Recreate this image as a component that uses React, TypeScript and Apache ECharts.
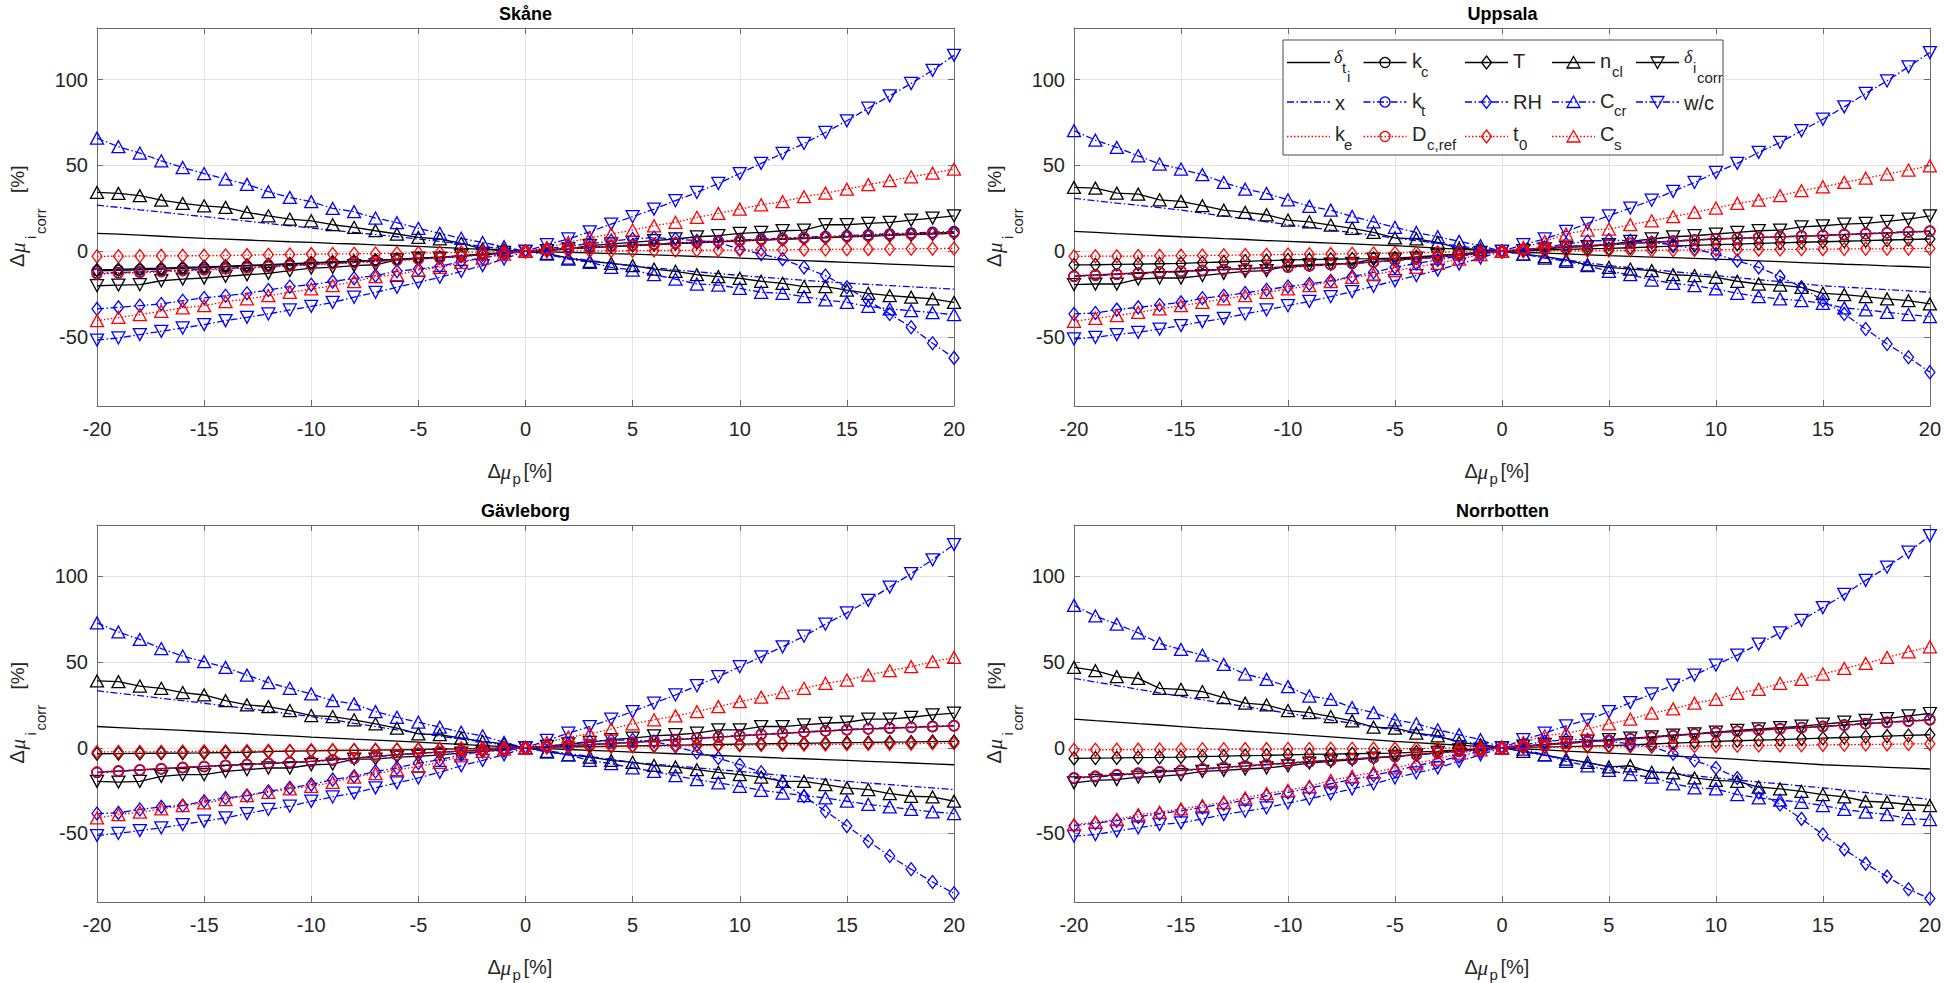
import React, { useEffect, useRef } from "react";
import * as echarts from "echarts";

// x values: Δμp [%]
const X = [-20,-19,-18,-17,-16,-15,-14,-13,-12,-11,-10,-9,-8,-7,-6,-5,-4,-3,-2,-1,0,1,2,3,4,5,6,7,8,9,10,11,12,13,14,15,16,17,18,19,20];
const X_TICKS_STEP = 5;
const Y_TICKS = [-50, 0, 50, 100];

// ---------- Skåne ----------
const skDt = [10.5,10.0,9.4,8.8,8.2,7.6,7.1,6.6,6.1,5.6,5.2,4.7,4.3,3.8,3.4,2.9,2.3,1.7,1.1,0.5,0,-0.3,-0.6,-0.9,-1.3,-1.6,-2.1,-2.5,-3.0,-3.4,-3.9,-4.4,-4.9,-5.4,-5.9,-6.4,-6.9,-7.4,-7.9,-8.4,-8.9];
const skKc = [-11.3,-11.0,-10.7,-10.3,-9.9,-9.5,-9.0,-8.5,-8.0,-7.5,-6.9,-6.4,-5.9,-5.3,-4.7,-4.0,-3.4,-2.7,-1.9,-1.0,0,0.9,1.6,2.3,2.9,3.4,4.0,4.6,5.2,5.7,6.2,6.7,7.2,7.7,8.1,8.6,9.1,9.6,10.1,10.6,11.2];
const skT = [-10.8,-10.5,-10.1,-9.8,-9.4,-9.0,-8.6,-8.1,-7.7,-7.2,-6.7,-6.2,-5.7,-5.2,-4.6,-4.0,-3.4,-2.7,-1.9,-1.0,0,0.8,1.5,2.2,2.8,3.4,3.9,4.5,5.0,5.5,6.0,6.5,7.0,7.5,7.9,8.4,8.8,9.3,9.7,10.1,10.5];
const skNcl = [34.3,33.7,32.4,29.8,27.9,26.5,25.6,22.7,20.7,18.8,17.8,15.5,14.0,12.0,10.1,8.1,7.2,4.7,1.4,0.8,0,-1.2,-3.9,-5.8,-7.0,-8.3,-10.3,-11.6,-13.6,-14.7,-15.7,-17.4,-18.6,-20.5,-20.5,-22.5,-24.4,-25.8,-26.7,-27.7,-29.7];
const skDic = [-20.0,-19.6,-19.4,-17.1,-16.1,-15.5,-14.5,-13.6,-12.8,-11.2,-9.7,-9.3,-8.3,-7.8,-5.0,-3.9,-3.9,-2.5,-1.6,-0.6,0,0.4,1.4,3.3,4.3,5.2,6.2,7.2,8.5,9.1,10.5,11.0,12.0,12.4,15.5,15.5,16.3,16.9,18.2,19.4,20.7];
const skX = [26.9,25.6,24.2,22.9,21.5,20.2,18.9,17.6,16.2,14.9,13.6,12.3,11.0,9.8,8.5,7.2,5.8,4.4,2.9,1.5,0,-1.9,-3.7,-5.3,-6.9,-8.5,-9.6,-10.8,-11.9,-13.0,-14.0,-15.0,-15.9,-16.8,-17.7,-18.5,-19.2,-19.9,-20.6,-21.3,-22.0];
const skKt = [-12.6,-12.3,-11.9,-11.4,-10.9,-10.4,-9.9,-9.3,-8.8,-8.2,-7.6,-7.0,-6.4,-5.8,-5.1,-4.4,-3.7,-2.9,-2.0,-1.1,0,1.0,1.8,2.5,3.1,3.7,4.3,4.9,5.5,6.1,6.6,7.2,7.7,8.2,8.7,9.2,9.7,10.2,10.7,11.2,11.6];
const skRH = [-33.5,-32.6,-31.6,-30.6,-28.7,-27.1,-25.8,-24.4,-22.5,-20.5,-19.4,-17.6,-15.7,-14.1,-11.6,-10.3,-8.7,-5.8,-3.9,-1.6,0,1.5,3.0,4.5,6.0,7.2,8.1,7.2,6.2,5.2,1.4,-1.6,-4.5,-9.3,-14.1,-20.9,-28.7,-36.4,-44.2,-53.5,-62.0];
const skCcr = [65.9,60.9,57.2,52.7,48.8,45.3,42.1,39.0,34.7,31.4,28.9,25.0,23.1,19.4,16.7,13.4,10.5,7.6,5.2,2.7,0,-1.6,-4.5,-6.4,-9.3,-10.9,-13.6,-16.1,-19.0,-19.6,-21.5,-23.8,-24.4,-26.4,-28.3,-29.7,-32.0,-33.5,-34.5,-35.7,-36.8];
const skWc = [-51.6,-50.4,-48.4,-46.5,-44.6,-42.6,-40.3,-38.4,-36.4,-34.1,-32.0,-29.7,-26.7,-23.8,-20.9,-18.0,-15.1,-11.6,-8.3,-4.5,0,3.9,7.2,11.4,15.9,20.2,24.6,29.5,34.3,39.5,45.3,51.2,57.0,62.8,69.2,76.0,83.3,90.5,97.7,105.4,114.1];
const skKe = [-13.0,-12.6,-12.2,-11.7,-11.2,-10.7,-10.2,-9.6,-9.0,-8.4,-7.8,-7.2,-6.6,-5.9,-5.2,-4.5,-3.7,-2.9,-2.0,-1.1,0,0.9,1.7,2.4,3.0,3.6,4.2,4.8,5.3,5.8,6.4,6.9,7.4,7.9,8.3,8.8,9.2,9.7,10.1,10.5,11.0];
const skDc = [-13.2,-12.8,-12.4,-11.9,-11.4,-10.9,-10.3,-9.7,-9.1,-8.5,-7.9,-7.3,-6.7,-6.0,-5.3,-4.6,-3.8,-3.0,-2.1,-1.1,0,0.9,1.7,2.3,2.9,3.5,4.1,4.7,5.2,5.7,6.2,6.7,7.2,7.7,8.1,8.6,9.0,9.5,9.9,10.4,10.8];
const skT0 = [-2.9,-2.8,-2.7,-2.6,-2.6,-2.5,-2.4,-2.2,-2.0,-1.8,-1.6,-1.5,-1.4,-1.3,-1.1,-1.0,-0.8,-0.6,-0.4,-0.2,0,0.1,0.2,0.3,0.3,0.4,0.5,0.5,0.6,0.7,0.8,0.9,0.9,1.0,1.1,1.2,1.3,1.4,1.5,1.6,1.7];
const skCs = [-40.3,-38.4,-36.8,-34.9,-32.9,-31.6,-29.3,-27.7,-25.8,-23.8,-21.9,-20.0,-17.6,-14.7,-13.6,-10.9,-9.3,-6.4,-3.9,-1.6,0,2.3,5.2,7.8,10.1,12.4,14.9,16.9,19.8,22.1,24.6,27.1,28.9,31.8,33.9,36.2,38.8,41.1,43.4,45.5,47.9];

// ---------- Uppsala ----------
const upDt = [11.6,11.0,10.3,9.7,9.1,8.5,8.0,7.4,6.9,6.3,5.8,5.3,4.8,4.3,3.8,3.3,2.6,1.9,1.3,0.6,0,-0.5,-1.0,-1.5,-2.0,-2.5,-2.9,-3.3,-3.7,-4.1,-4.5,-5.0,-5.5,-6.0,-6.5,-7.0,-7.5,-7.9,-8.4,-8.8,-9.3];
const upKc = [-14.3,-13.7,-13.1,-12.5,-12.0,-11.5,-11.0,-10.5,-10.0,-9.5,-9.0,-8.3,-7.6,-6.9,-6.1,-5.1,-4.2,-3.3,-2.3,-1.2,0,1.1,2.0,2.7,3.3,3.9,4.6,5.3,5.9,6.6,7.2,7.6,8.0,8.4,8.8,9.2,9.7,10.2,10.7,11.2,11.6];
const upT = [-7.9,-7.8,-7.6,-7.4,-7.2,-7.0,-6.6,-6.2,-5.8,-5.4,-5.0,-4.8,-4.6,-4.4,-4.2,-3.9,-3.2,-2.4,-1.6,-0.8,0,0.4,0.8,1.1,1.4,1.7,2.1,2.6,3.0,3.5,3.9,4.2,4.6,4.9,5.3,5.6,5.9,6.2,6.6,6.9,7.2];
const upNcl = [37.2,36.8,33.9,33.3,30.0,29.1,26.6,24.0,22.7,21.3,18.2,17.2,15.3,13.4,11.0,7.8,7.2,5.2,1.7,1.2,0,-1.6,-3.1,-5.0,-7.8,-9.3,-10.3,-11.2,-13.6,-14.1,-15.1,-17.4,-19.0,-19.6,-20.9,-24.4,-25.2,-26.4,-27.7,-28.7,-30.6];
const upDic = [-19.4,-19.0,-19.0,-16.1,-15.5,-15.5,-14.1,-12.8,-11.6,-11.2,-8.3,-7.8,-7.4,-7.0,-4.5,-4.5,-3.9,-2.5,-1.6,-0.6,0,0.4,1.4,2.3,2.7,3.9,5.8,7.2,8.5,9.1,10.1,11.0,12.0,12.4,14.3,14.9,15.9,16.3,17.4,18.8,20.7];
const upX = [30.8,29.5,28.1,26.8,25.4,24.0,22.3,20.6,18.9,17.2,15.5,14.0,12.4,10.9,9.3,7.8,6.2,4.7,3.1,1.6,0,-1.7,-3.3,-5.0,-6.6,-8.3,-9.5,-10.6,-11.8,-12.9,-14.1,-15.3,-16.5,-17.6,-18.8,-20.0,-20.8,-21.5,-22.3,-23.0,-23.8];
const upKt = [-14.7,-14.1,-13.5,-12.9,-12.3,-11.8,-11.3,-10.8,-10.3,-9.8,-9.3,-8.6,-7.9,-7.1,-6.3,-5.3,-4.3,-3.4,-2.4,-1.2,0,1.1,2.0,2.8,3.4,4.0,4.7,5.4,6.0,6.7,7.3,7.7,8.1,8.6,9.0,9.4,9.9,10.4,10.9,11.4,11.9];
const upRH = [-36.4,-35.9,-33.9,-32.6,-31.2,-29.7,-27.3,-25.8,-24.2,-22.3,-20.5,-19.0,-17.1,-14.7,-12.2,-9.3,-7.0,-5.0,-2.5,-1.2,0,0.4,2.3,4.3,5.8,6.6,6.2,5.2,3.9,1.4,-1.6,-5.4,-9.3,-14.7,-20.9,-28.7,-36.4,-45.2,-53.9,-61.6,-70.3];
const upCcr = [70.2,64.7,60.5,55.6,50.8,47.9,44.6,40.1,36.2,33.7,30.0,26.2,24.0,20.3,17.2,14.0,11.0,8.5,5.8,3.3,0,-1.6,-3.9,-5.8,-8.3,-11.6,-13.6,-16.7,-18.6,-20.0,-21.9,-24.4,-26.4,-27.7,-28.7,-30.2,-32.9,-34.1,-35.5,-36.8,-38.0];
const upWc = [-51.0,-50.0,-48.4,-47.1,-45.2,-43.2,-40.9,-39.0,-36.4,-34.1,-31.6,-29.1,-26.4,-23.4,-20.3,-17.1,-14.1,-10.9,-7.4,-3.9,0,3.9,7.2,11.6,16.3,20.7,25.2,29.8,34.9,40.1,45.9,51.2,57.6,63.4,70.2,76.9,84.1,91.9,99.2,107.4,115.7];
const upKe = [-14.5,-13.9,-13.3,-12.7,-12.1,-11.6,-11.1,-10.6,-10.1,-9.6,-9.1,-8.4,-7.7,-7.0,-6.2,-5.2,-4.2,-3.3,-2.3,-1.2,0,1.1,2.0,2.7,3.3,3.9,4.6,5.2,5.8,6.5,7.1,7.6,8.0,8.4,8.8,9.2,9.7,10.2,10.7,11.2,11.6];
const upDc = [-14.6,-14.0,-13.4,-12.8,-12.2,-11.7,-11.1,-10.6,-10.1,-9.6,-9.1,-8.4,-7.7,-7.0,-6.2,-5.2,-4.2,-3.3,-2.3,-1.2,0,1.1,2.0,2.7,3.3,3.9,4.6,5.3,5.9,6.6,7.2,7.7,8.1,8.5,8.9,9.3,9.8,10.3,10.8,11.3,11.8];
const upT0 = [-2.9,-2.8,-2.8,-2.7,-2.6,-2.5,-2.4,-2.3,-2.1,-2.0,-1.8,-1.7,-1.6,-1.4,-1.2,-1.0,-0.8,-0.6,-0.4,-0.2,0,0.1,0.2,0.3,0.4,0.5,0.5,0.6,0.7,0.8,0.9,1.0,1.0,1.1,1.2,1.3,1.4,1.5,1.5,1.6,1.7];
const upCs = [-40.7,-39.0,-37.4,-35.5,-33.5,-31.6,-29.7,-27.7,-25.8,-23.8,-21.9,-20.0,-17.6,-15.1,-13.6,-11.2,-9.3,-7.0,-4.5,-1.9,0,2.3,5.8,10.1,12.4,13.0,15.5,17.8,20.2,22.7,25.2,27.9,29.8,32.4,35.3,37.6,40.1,42.6,45.0,47.3,49.8];

// ---------- Gävleborg ----------
const gvDt = [12.4,11.8,11.2,10.7,10.1,9.5,8.8,8.2,7.5,6.9,6.2,5.6,5.0,4.5,3.9,3.3,2.6,2.0,1.3,0.7,0,-0.5,-1.0,-1.5,-2.0,-2.5,-3.0,-3.5,-4.0,-4.5,-5.0,-5.5,-6.0,-6.4,-6.9,-7.4,-7.9,-8.4,-8.9,-9.4,-9.9];
const gvKc = [-14.3,-13.6,-12.9,-12.2,-11.5,-10.9,-10.3,-9.7,-9.1,-8.5,-7.9,-7.0,-6.1,-5.0,-4.0,-3.1,-2.5,-1.9,-1.3,-0.6,0,0.6,1.2,1.8,2.5,3.1,3.9,4.7,5.5,6.2,7.0,7.7,8.4,9.1,9.8,10.5,11.0,11.4,11.9,12.3,12.8];
const gvT = [-3.5,-3.4,-3.3,-3.2,-3.1,-3.0,-2.8,-2.6,-2.3,-2.0,-1.8,-1.6,-1.5,-1.4,-1.2,-1.0,-0.8,-0.6,-0.4,-0.2,0,0.3,0.5,0.7,0.9,1.1,1.3,1.5,1.7,1.9,2.1,2.3,2.5,2.6,2.8,3.0,3.1,3.3,3.4,3.6,3.7];
const gvNcl = [39.0,38.6,36.0,34.7,32.2,30.8,27.5,25.0,24.0,21.7,18.8,18.2,16.3,14.0,11.4,8.1,7.6,5.6,3.7,2.3,0,-2.1,-4.1,-5.4,-7.4,-8.5,-10.3,-11.2,-12.8,-14.3,-15.7,-17.1,-19.6,-19.6,-21.5,-23.4,-24.4,-26.7,-28.3,-28.7,-31.2];
const gvDic = [-19.6,-20.0,-19.6,-16.7,-15.7,-15.7,-13.8,-12.8,-11.8,-11.8,-9.9,-9.5,-6.6,-6.6,-5.4,-5.0,-4.1,-3.1,-2.1,-1.2,0,0.8,2.3,3.1,4.7,5.6,7.0,7.6,8.5,10.5,10.5,12.4,12.4,13.4,14.3,14.9,16.7,16.7,17.8,19.2,20.2];
const gvX = [33.3,31.8,30.4,28.9,27.5,26.0,24.4,22.9,21.3,19.8,18.2,16.3,14.3,12.4,10.4,8.5,6.8,5.1,3.4,1.7,0,-1.7,-3.4,-5.1,-6.8,-8.5,-9.6,-10.6,-11.7,-12.7,-13.8,-15.0,-16.1,-17.3,-18.4,-19.6,-20.6,-21.5,-22.5,-23.4,-24.4];
const gvKt = [-14.5,-13.8,-13.1,-12.4,-11.7,-11.1,-10.5,-9.9,-9.3,-8.7,-8.1,-7.2,-6.3,-5.2,-4.2,-3.3,-2.6,-2.0,-1.3,-0.6,0,0.6,1.3,1.9,2.6,3.3,4.1,4.9,5.6,6.4,7.2,7.9,8.6,9.3,10.0,10.7,11.2,11.7,12.1,12.6,13.0];
const gvRH = [-38.4,-38.0,-36.0,-34.5,-33.7,-31.2,-29.3,-27.9,-25.4,-23.4,-21.5,-18.6,-16.7,-13.8,-11.8,-8.9,-7.0,-4.1,-2.1,-1.6,0,0.8,2.3,3.7,4.3,4.7,3.7,0.8,-2.7,-6.0,-9.9,-14.3,-20.5,-28.3,-37.0,-45.7,-54.5,-63.2,-70.9,-78.3,-84.9];
const gvCcr = [72.9,67.6,63.2,57.9,53.5,50.2,46.9,42.4,38.0,34.7,31.4,27.5,25.6,21.1,17.8,14.9,12.0,9.1,7.0,3.1,0,-2.5,-4.1,-7.4,-9.3,-11.8,-13.8,-16.3,-18.6,-20.5,-22.5,-24.8,-26.4,-27.9,-29.3,-31.2,-33.1,-34.5,-36.0,-37.4,-38.4];
const gvWc = [-51.2,-50.0,-48.3,-46.7,-44.8,-42.8,-40.9,-38.4,-36.0,-34.1,-31.2,-28.7,-26.4,-23.4,-20.5,-17.6,-14.3,-10.5,-7.4,-4.1,0,4.3,8.5,12.4,16.7,21.1,26.0,30.8,36.2,41.5,47.3,53.1,58.9,65.1,72.1,78.7,86.0,93.8,101.6,109.7,118.6];
const gvKe = [-14.2,-13.5,-12.8,-12.1,-11.5,-10.9,-10.3,-9.7,-9.1,-8.5,-7.9,-7.0,-6.1,-5.0,-4.0,-3.1,-2.5,-1.9,-1.3,-0.6,0,0.6,1.2,1.8,2.5,3.1,3.9,4.6,5.4,6.2,6.9,7.6,8.3,9.0,9.7,10.4,10.9,11.4,11.8,12.3,12.7];
const gvDc = [-14.1,-13.4,-12.8,-12.1,-11.4,-10.8,-10.2,-9.6,-9.0,-8.4,-7.8,-6.9,-6.0,-5.0,-4.0,-3.1,-2.5,-1.9,-1.2,-0.6,0,0.6,1.2,1.8,2.4,3.0,3.8,4.6,5.4,6.1,6.9,7.6,8.3,9.0,9.7,10.4,10.9,11.3,11.8,12.2,12.7];
const gvT0 = [-2.5,-2.4,-2.4,-2.3,-2.2,-2.1,-2.0,-1.9,-1.8,-1.7,-1.5,-1.4,-1.3,-1.1,-1.0,-0.9,-0.7,-0.5,-0.4,-0.2,0,0.2,0.3,0.5,0.6,0.8,0.9,1.1,1.2,1.3,1.5,1.6,1.7,1.8,1.9,2.1,2.2,2.3,2.4,2.6,2.7];
const gvCs = [-40.9,-39.0,-37.6,-35.7,-33.7,-32.2,-30.2,-27.9,-26.0,-24.0,-22.5,-20.2,-17.1,-15.1,-12.8,-10.9,-8.5,-4.7,-2.1,-0.8,0,3.1,6.2,8.1,10.9,14.0,16.3,18.6,21.1,24.0,26.9,29.5,32.2,34.7,37.6,39.5,42.4,45.0,47.3,50.2,52.7];

// ---------- Norrbotten ----------
const nbDt = [16.7,15.8,15.0,14.1,13.3,12.4,11.5,10.7,9.8,9.0,8.1,7.2,6.4,5.5,4.6,3.7,3.0,2.2,1.5,0.7,0,-0.6,-1.2,-1.9,-2.5,-3.1,-3.7,-4.3,-4.8,-5.4,-6.0,-6.8,-7.6,-8.3,-9.1,-9.9,-10.4,-10.9,-11.4,-11.9,-12.4];
const nbKc = [-17.6,-16.7,-15.8,-14.9,-14.0,-13.2,-12.3,-11.4,-10.6,-9.7,-8.9,-8.1,-7.3,-6.6,-5.8,-5.0,-4.0,-3.0,-2.0,-1.0,0,0.9,1.7,2.6,3.4,4.3,5.2,6.1,7.1,8.0,8.9,9.6,10.3,11.0,11.7,12.4,13.2,14.0,14.8,15.5,16.3];
const nbT = [-6.2,-6.0,-5.9,-5.7,-5.6,-5.4,-5.1,-4.9,-4.6,-4.4,-4.1,-3.9,-3.7,-3.5,-3.3,-3.1,-2.5,-1.9,-1.2,-0.6,0,0.2,0.5,0.7,1.0,1.2,1.7,2.2,2.7,3.2,3.7,4.1,4.5,4.8,5.2,5.6,6.0,6.4,6.8,7.2,7.6];
const nbNcl = [46.9,45.0,41.5,40.5,34.7,34.1,32.8,29.3,26.0,25.0,21.7,20.5,18.2,15.7,12.0,11.4,8.5,7.0,3.1,1.7,0,-2.1,-4.1,-6.6,-8.5,-11.2,-10.5,-14.3,-14.7,-17.6,-19.0,-19.6,-22.9,-24.0,-25.4,-27.3,-28.7,-31.2,-31.8,-33.1,-33.7];
const nbDic = [-20.5,-19.0,-18.6,-17.1,-16.7,-15.7,-13.8,-13.2,-12.4,-11.8,-10.5,-8.9,-7.9,-7.0,-6.0,-5.0,-4.1,-2.7,-1.2,-0.8,0,1.0,2.0,3.0,3.9,4.7,5.6,6.4,7.4,8.1,9.1,10.1,11.0,11.8,12.6,13.8,14.9,16.0,17.0,18.6,20.0];
const nbX = [40.5,38.4,36.3,34.1,32.0,30.0,28.0,26.0,24.1,22.1,20.2,18.2,16.2,14.3,12.3,10.3,8.2,6.2,4.1,2.1,0,-2.2,-4.4,-6.6,-8.8,-10.9,-12.3,-13.6,-14.9,-16.3,-17.6,-18.8,-20.0,-21.1,-22.3,-23.4,-24.8,-26.1,-27.5,-28.8,-30.2];
const nbKt = [-17.9,-17.0,-16.1,-15.2,-14.3,-13.4,-12.5,-11.6,-10.8,-9.9,-9.1,-8.3,-7.5,-6.7,-5.9,-5.1,-4.1,-3.1,-2.1,-1.0,0,0.9,1.8,2.7,3.5,4.4,5.3,6.2,7.2,8.1,9.0,9.7,10.5,11.2,11.9,12.6,13.4,14.2,15.0,15.8,16.6];
const nbRH = [-45.5,-44.0,-42.5,-40.3,-38.5,-36.8,-34.8,-32.8,-30.5,-28.0,-26.0,-23.5,-21.0,-18.5,-16.0,-13.5,-10.5,-8.0,-5.0,-2.0,0,1.7,3.7,4.7,4.7,3.7,2.3,0.8,-3.5,-7.4,-11.8,-17.6,-26.0,-33.1,-41.5,-50.6,-59.3,-67.6,-75.2,-82.6,-88.0];
const nbCcr = [83.1,76.9,72.1,67.1,60.9,57.4,54.1,48.6,43.0,39.9,35.7,30.2,28.3,23.4,20.5,16.3,14.0,10.5,7.6,4.7,0,-0.8,-4.1,-7.9,-10.5,-13.2,-15.7,-17.1,-21.0,-23.4,-24.0,-27.3,-29.3,-30.6,-31.8,-33.7,-36.0,-37.6,-39.0,-41.3,-41.9];
const nbWc = [-51.6,-50.6,-48.6,-46.7,-44.8,-43.8,-41.5,-39.0,-37.0,-35.1,-32.2,-29.8,-26.9,-24.0,-21.1,-17.6,-14.7,-11.8,-7.9,-4.1,0,4.7,8.5,12.8,16.3,21.1,26.4,31.4,36.6,42.4,48.3,54.1,60.5,67.1,74.4,81.8,89.5,97.7,105.4,114.1,123.8];
const nbKe = [-17.5,-16.6,-15.7,-14.8,-13.9,-13.1,-12.2,-11.4,-10.5,-9.7,-8.8,-8.0,-7.3,-6.5,-5.8,-5.0,-4.0,-3.0,-2.0,-1.0,0,0.9,1.7,2.6,3.4,4.3,5.2,6.1,7.0,7.9,8.8,9.5,10.2,10.9,11.6,12.4,13.1,13.9,14.7,15.4,16.2];
const nbDc = [-17.4,-16.5,-15.6,-14.7,-13.9,-13.0,-12.2,-11.3,-10.5,-9.6,-8.8,-8.0,-7.2,-6.5,-5.7,-4.9,-3.9,-2.9,-2.0,-1.0,0,0.9,1.7,2.6,3.4,4.2,5.1,6.0,7.0,7.9,8.8,9.5,10.2,10.9,11.6,12.3,13.1,13.9,14.6,15.3,16.1];
const nbT0 = [-1.2,-1.2,-1.1,-1.1,-1.0,-1.0,-0.9,-0.9,-0.8,-0.8,-0.7,-0.7,-0.6,-0.6,-0.5,-0.5,-0.4,-0.3,-0.2,-0.1,0,0.1,0.2,0.4,0.5,0.6,0.7,0.8,0.9,1.0,1.1,1.2,1.3,1.4,1.5,1.7,1.8,1.9,2.0,2.2,2.3];
const nbCs = [-44.8,-43.4,-41.9,-39.0,-37.6,-35.7,-33.7,-31.8,-29.3,-26.7,-24.8,-22.5,-19.0,-16.7,-14.3,-11.8,-8.9,-6.6,-3.1,-1.2,0,3.1,7.0,8.5,10.9,14.0,16.7,20.2,22.7,26.0,28.3,31.8,34.1,37.6,39.9,43.0,46.3,49.2,52.7,56.0,58.9];

const PANEL_TITLES = ["Skåne", "Uppsala", "Gävleborg", "Norrbotten"];
const PANEL_DATA = [
  [skDt, skKc, skT, skNcl, skDic, skX, skKt, skRH, skCcr, skWc, skKe, skDc, skT0, skCs],
  [upDt, upKc, upT, upNcl, upDic, upX, upKt, upRH, upCcr, upWc, upKe, upDc, upT0, upCs],
  [gvDt, gvKc, gvT, gvNcl, gvDic, gvX, gvKt, gvRH, gvCcr, gvWc, gvKe, gvDc, gvT0, gvCs],
  [nbDt, nbKc, nbT, nbNcl, nbDic, nbX, nbKt, nbRH, nbCcr, nbWc, nbKe, nbDc, nbT0, nbCs],
];
const SERIES_NAMES = ["δt_i", "k_c", "T", "n_cl", "δi_corr", "x", "k_t", "RH", "C_cr", "w/c", "k_e", "D_c,ref", "t_0", "C_s"];

// ---------- styling (not data) ----------
const BLACK = "#000000";
const BLUE = "#0000ff";
const RED = "#ff0000";
const STYLE_DEFS: [string, string, string][] = [
  [BLACK, "solid", "none"], [BLACK, "solid", "circle"], [BLACK, "solid", "diamond"], [BLACK, "solid", "up"], [BLACK, "solid", "down"],
  [BLUE, "dashdot", "none"], [BLUE, "dashdot", "circle"], [BLUE, "dashdot", "diamond"], [BLUE, "dashdot", "up"], [BLUE, "dashdot", "down"],
  [RED, "dotted", "none"], [RED, "dotted", "circle"], [RED, "dotted", "diamond"], [RED, "dotted", "up"],
];
const DASH: Record<string, any> = { solid: "solid", dashdot: [7, 2.5, 1.5, 2.5], dotted: [1.5, 2] };
const FONT = '"Liberation Sans", Arial, Helvetica, sans-serif';
const SERIF = '"Liberation Serif", "DejaVu Serif", serif';
const AXC = "#6a6a6a";
const GRIDC = "#e3e3e3";
const TXT = "#262626";
const LW = 1.3;

const GRIDS = [
  { left: 97, top: 28, width: 857, height: 378 },
  { left: 1074, top: 28, width: 857, height: 378 },
  { left: 97, top: 525, width: 857, height: 377 },
  { left: 1074, top: 525, width: 857, height: 377 },
];

function symbolProps(sym: string) {
  if (sym === "circle") return { symbol: "circle", symbolSize: 10, symbolRotate: 0 };
  if (sym === "diamond") return { symbol: "diamond", symbolSize: [10, 13], symbolRotate: 0 };
  if (sym === "up") return { symbol: "triangle", symbolSize: [13, 12], symbolRotate: 0 };
  if (sym === "down") return { symbol: "triangle", symbolSize: [13, 12], symbolRotate: 180 };
  return { symbol: "none", symbolSize: 0, symbolRotate: 0 };
}

function txt(text: string, x: number, y: number, size: number, opts: any = {}) {
  return {
    type: "text",
    x, y, z: opts.z ?? 60, silent: true,
    style: {
      text,
      fill: opts.fill ?? TXT,
      fontSize: size,
      fontFamily: opts.family ?? FONT,
      fontStyle: opts.italic ? "italic" : "normal",
      fontWeight: opts.bold ? "bold" : "normal",
      textAlign: opts.align ?? "left",
      align: opts.align ?? "left",
      textVerticalAlign: "middle",
      verticalAlign: "middle",
    },
  };
}

function markerShape(sym: string, cx: number, cy: number, color: string) {
  const style = { fill: "none", stroke: color, lineWidth: LW };
  if (sym === "circle") return { type: "circle", z: 61, silent: true, shape: { cx, cy, r: 5 }, style };
  if (sym === "diamond") return { type: "polygon", z: 61, silent: true, shape: { points: [[cx, cy - 6.5], [cx + 5, cy], [cx, cy + 6.5], [cx - 5, cy]] }, style };
  if (sym === "up") return { type: "polygon", z: 61, silent: true, shape: { points: [[cx, cy - 6], [cx + 6.5, cy + 5.5], [cx - 6.5, cy + 5.5]] }, style };
  if (sym === "down") return { type: "polygon", z: 61, silent: true, shape: { points: [[cx, cy + 6], [cx + 6.5, cy - 5.5], [cx - 6.5, cy - 5.5]] }, style };
  return null;
}

function buildLegend() {
  const els: any[] = [];
  els.push({ type: "rect", z: 59, silent: true, shape: { x: 1283, y: 40, width: 440, height: 115 }, style: { fill: "#ffffff", stroke: "#4a4a4a", lineWidth: 1 } });
  const cols = [1287, 1363.5, 1465, 1552, 1636];
  const rows = [62.5, 102, 136.5];
  const LEN = 43;
  // label pieces: [text, x, y, size, italicSerif]
  const labels: any[][] = [
    [["δ", 1334, 57, 18, true], ["t", 1342, 67, 15], ["i", 1347, 76, 15]],
    [["k", 1412, 61, 20], ["c", 1421, 71, 15]],
    [["T", 1513, 61, 20]],
    [["n", 1600, 61, 20], ["cl", 1612, 71, 15]],
    [["δ", 1684, 57, 18, true], ["i", 1693, 67, 15], ["corr", 1697, 77, 15]],
    [["x", 1335, 103, 20]],
    [["k", 1412, 101, 20], ["t", 1421, 110, 15]],
    [["RH", 1513, 102, 20]],
    [["C", 1600, 101, 20], ["cr", 1614, 110, 15]],
    [["w/c", 1684, 103, 20]],
    [["k", 1335, 134, 20], ["e", 1344, 144, 15]],
    [["D", 1412, 134, 20], ["c,ref", 1427, 144, 15]],
    [["t", 1513, 134, 20], ["0", 1519, 144, 15]],
    [["C", 1600, 134, 20], ["s", 1614, 144, 15]],
  ];
  // legend entries are laid out column-major (3 rows x 5 columns)
  const order = [0, 5, 10, 1, 6, 11, 2, 7, 12, 3, 8, 13, 4, 9];
  const pos: Record<number, [number, number]> = {};
  order.forEach((si, k) => { pos[si] = [Math.floor(k / 3), k % 3]; });
  for (let si = 0; si < 14; si++) {
    const [c, r] = pos[si];
    const [color, dash, sym] = STYLE_DEFS[si];
    const x0 = cols[c];
    const y0 = rows[r];
    els.push({ type: "line", z: 60, silent: true, shape: { x1: x0, y1: y0, x2: x0 + LEN, y2: y0 }, style: { stroke: color, lineWidth: LW, lineDash: dash === "solid" ? null : DASH[dash] } });
    const m = markerShape(sym, x0 + LEN / 2, y0, color);
    if (m) els.push(m);
    for (const p of labels[si]) {
      els.push(txt(p[0], p[1], p[2], p[3], p[4] ? { italic: true, family: SERIF } : {}));
    }
  }
  return els;
}

function axisLabels() {
  const els: any[] = [];
  GRIDS.forEach((g, i) => {
    const cx = g.left + g.width / 2;
    // title
    els.push(txt(PANEL_TITLES[i], cx, g.top - 14, 18, { bold: true, align: "center", fill: "#000000" }));
    // x label  Δμp[%]
    const xy = g.top + g.height + 65;
    els.push(txt("Δ", cx - 38, xy, 20));
    els.push(txt("μ", cx - 25, xy + 1, 21, { italic: true, family: SERIF }));
    els.push(txt("p", cx - 13, xy + 7, 15));
    els.push(txt("[%]", cx - 2, xy, 20));
    // y label Δμ_{i_corr} [%], rotated
    els.push({
      type: "group",
      x: g.left - 80,
      y: g.top + g.height / 2,
      rotation: Math.PI / 2,
      children: [
        txt("Δ", -50, 0, 20),
        txt("μ", -36, 1, 21, { italic: true, family: SERIF }),
        txt("i", -22, 13, 15),
        txt("corr", -17, 23, 15),
        txt("[%]", 24, 0, 19),
      ],
    });
  });
  return els;
}

function buildOption() {
  const xAxis: any[] = [];
  const yAxis: any[] = [];
  const grid: any[] = [];
  const series: any[] = [];
  const axLine = { show: true, onZero: false, lineStyle: { color: AXC, width: 1 } };
  GRIDS.forEach((g, i) => {
    grid.push({ ...g, show: false, containLabel: false });
    xAxis.push({
      gridIndex: i, type: "value", min: -20, max: 20, interval: X_TICKS_STEP, position: "bottom",
      axisLine: axLine,
      axisTick: { show: true, inside: true, length: 6, lineStyle: { color: AXC } },
      axisLabel: { show: true, color: TXT, fontSize: 20, fontFamily: FONT, margin: 13 },
      splitLine: { show: true, lineStyle: { color: GRIDC, width: 1 } },
    });
    xAxis.push({
      gridIndex: i, type: "value", min: -20, max: 20, interval: X_TICKS_STEP, position: "top",
      axisLine: axLine,
      axisTick: { show: true, inside: true, length: 6, lineStyle: { color: AXC } },
      axisLabel: { show: false }, splitLine: { show: false },
    });
    yAxis.push({
      gridIndex: i, type: "value", min: -90, max: 130, position: "left",
      axisLine: axLine,
      axisTick: { show: true, inside: true, length: 6, customValues: Y_TICKS, lineStyle: { color: AXC } },
      axisLabel: { show: true, customValues: Y_TICKS, color: TXT, fontSize: 20, fontFamily: FONT, margin: 9 },
      splitLine: { show: true, lineStyle: { color: GRIDC, width: 1 } },
    });
    yAxis.push({
      gridIndex: i, type: "value", min: -90, max: 130, position: "right",
      axisLine: axLine,
      axisTick: { show: true, inside: true, length: 6, customValues: Y_TICKS, lineStyle: { color: AXC } },
      axisLabel: { show: false }, splitLine: { show: false },
    });
    PANEL_DATA[i].forEach((vals, si) => {
      const [color, dash, sym] = STYLE_DEFS[si];
      const sp = symbolProps(sym);
      series.push({
        type: "line",
        name: SERIES_NAMES[si],
        xAxisIndex: 2 * i,
        yAxisIndex: 2 * i,
        data: X.map((x, k) => [x, vals[k]]),
        ...sp,
        showSymbol: sym !== "none",
        lineStyle: { color, width: LW, type: DASH[dash] },
        itemStyle: { color: "rgba(255,255,255,0)", borderColor: color, borderWidth: LW },
        emphasis: { disabled: true },
        silent: true,
        animation: false,
        z: 3,
      });
    });
  });
  return {
    animation: false,
    backgroundColor: "#ffffff",
    grid, xAxis, yAxis, series,
    graphic: { elements: [...axisLabels(), ...buildLegend()] },
  };
}

export default function App() {
  const ref = useRef<HTMLDivElement>(null);
  useEffect(() => {
    if (!ref.current) return;
    const chart = echarts.init(ref.current, undefined, { renderer: "svg", width: 1944, height: 983 });
    chart.setOption(buildOption() as any);
    return () => chart.dispose();
  }, []);
  return (
    <div
      ref={ref}
      style={{ position: "fixed", left: 0, top: 0, width: 1944, height: 983, background: "#ffffff" }}
    />
  );
}
